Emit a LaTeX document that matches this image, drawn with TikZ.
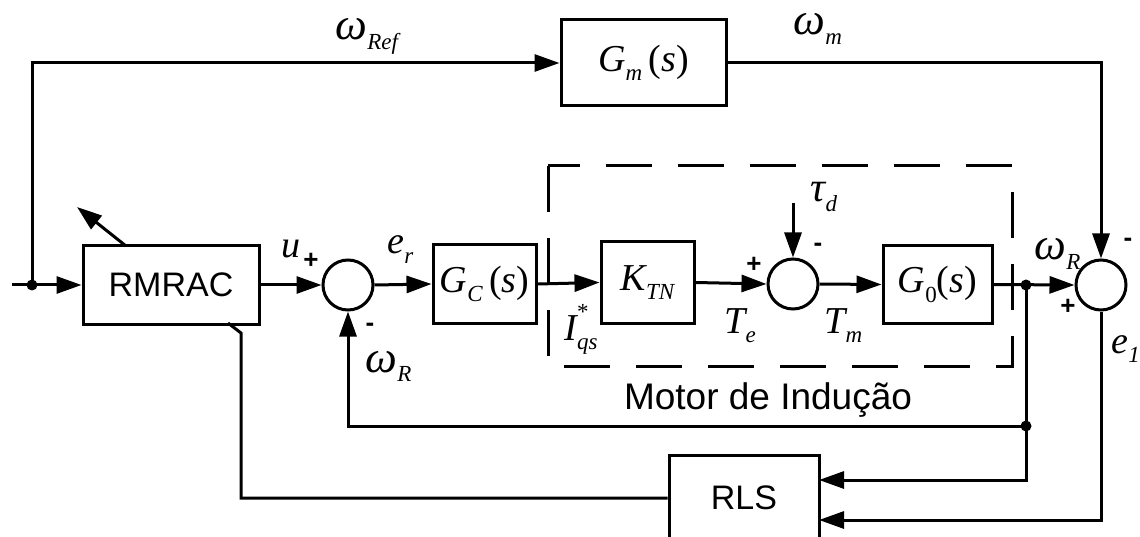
\documentclass[tikz,border=0pt]{standalone}
\usepackage{fontspec}
\setmainfont{Liberation Sans}
\newfontfamily\tms{Liberation Serif}
\usetikzlibrary{arrows.meta}
\newcommand\mth[1]{{\fontsize{38}{40}\selectfont\tms\itshape #1}}
\newcommand\sbs[1]{\raisebox{-0.25em}{\fontsize{23}{24}\selectfont #1}}
\newcommand\upr[1]{{\upshape #1}}
\newcommand\om{{\fontsize{45}{46}\selectfont ω}}
\newcommand\ta{{\fontsize{42}{46}\selectfont τ}}
\begin{document}
\begin{tikzpicture}[x=1pt,y=-1pt,line width=3pt,
  arr/.style={-{Triangle[length=25pt,width=17pt]}},
  blk/.style={draw,line width=3pt,inner sep=0pt},
  sumc/.style={draw,circle,line width=3pt,minimum size=50pt,inner sep=0pt},
  txt/.style={font=\fontsize{34}{40}\selectfont},
  lab/.style={anchor=base west,inner sep=0pt},
  pm/.style={inner sep=0pt,font=\fontsize{26}{28}\selectfont\bfseries},
  dotc/.style={circle,fill,minimum size=11pt,inner sep=0pt}]
\useasboundingbox (0,0) rectangle (1140,537);
\clip (0,0) rectangle (1140,537);
% blocks
\node[blk,txt,minimum width=176pt,minimum height=78pt] (RMRAC) at (171,285) {RMRAC};
\node[sumc] (s1) at (348,285) {};
\node[blk,minimum width=103pt,minimum height=78pt] (Gc) at (484.5,284) {\mth{G\sbs{C}\,\upr{(}s\upr{)}}};
\node[blk,minimum width=93pt,minimum height=81pt] (K) at (647.5,282.5) {\mth{K\sbs{TN}}};
\node[sumc] (s2) at (793,284) {};
\node[blk,minimum width=109pt,minimum height=77pt] (G0) at (937.5,284.5) {\mth{G\sbs{\upr{0}}\upr{(}s\upr{)}}};
\node[sumc] (s3) at (1101,285) {};
\node[blk,minimum width=165pt,minimum height=86pt] (Gm) at (643.5,63) {\mth{G\sbs{m}\,\upr{(}s\upr{)}}};
\node[blk,txt,minimum width=150pt,minimum height=86pt] (RLS) at (744,498) {RLS};
% dashed motor box
\draw[dash pattern=on 46pt off 26pt] (548,166) rectangle (1012,366);
\node[font=\fontsize{37}{40}\selectfont] (motor) at (768,400) {Motor de Indução};
% coordinates
\coordinate (in) at (12,285);
\node[dotc] (d1) at (32,285) {};
\node[dotc] (d2) at (1026,285) {};
\node[dotc] (d3) at (1026,426) {};
\coordinate (tau) at (793,203);
\coordinate (rlsA) at (819,480);
\coordinate (rlsB) at (819,520);
\coordinate (adA) at (126,246);
\coordinate (adB) at (77,207);
\coordinate (rmB) at (228,323);
\coordinate (rmC) at (241,333);
% connectors
\draw[arr] (in) -- (RMRAC.west);
\draw[arr] (d1.center) |- (Gm.west);
\draw[arr] (Gm.east) -| (s3.north);
\draw[arr] (RMRAC.east) -- (s1.west);
\draw[arr] (s1.east) -- (Gc.west);
\draw[arr] (Gc.east) -- (K.west);
\draw[arr] (K.east) -- (s2.west);
\draw[arr] (tau) -- (s2.north);
\draw[arr] (s2.east) -- (G0.west);
\draw[arr] (G0.east) -- (s3.west);
\draw (d2.center) -- (d3.center);
\draw[arr] (d3.center) -| (s1.south);
\draw[arr] (d3.center) |- (rlsA);
\draw[arr] (s3.south) |- (rlsB);
\draw (RLS.west) -| (rmC) -- (rmB);
\draw[arr] (adA) -- (adB);
% labels
\node[lab] (lref) at (334,40) {\mth{\om\sbs{Ref}}};
\node[lab] (lwm) at (792,35) {\mth{\om\sbs{m}}};
\node[lab] (lu) at (280,258) {\mth{u}};
\node[pm] (p1) at (311,261) {+};
\node[lab] (ler) at (386,254) {\mth{e\sbs{r}}};
\node[pm] (m1) at (370,327) {-};
\node[lab] (lwr1) at (364,372) {\mth{\om\sbs{R}}};
\node[lab] (liq) at (563,340) {\mth{I\rlap{\raisebox{0.55em}{\fontsize{23}{24}\selectfont\upshape *}}\sbs{qs}}};
\node[lab] (lte) at (723,333) {\mth{T\sbs{e}}};
\node[lab] (ltm) at (823,333) {\mth{T\sbs{m}}};
\node[lab] (ltau) at (809,202) {\mth{\ta\sbs{d}}};
\node[pm] (m2) at (818,247) {-};
\node[pm] (p2) at (754,265) {+};
\node[lab] (lwr2) at (1033,260) {\mth{\om\sbs{R}}};
\node[pm] (m3) at (1128,242) {-};
\node[pm] (p3) at (1068,307) {+};
\node[lab] (le1) at (1110,353) {\mth{e\sbs{1}}};
\end{tikzpicture}
\end{document}
